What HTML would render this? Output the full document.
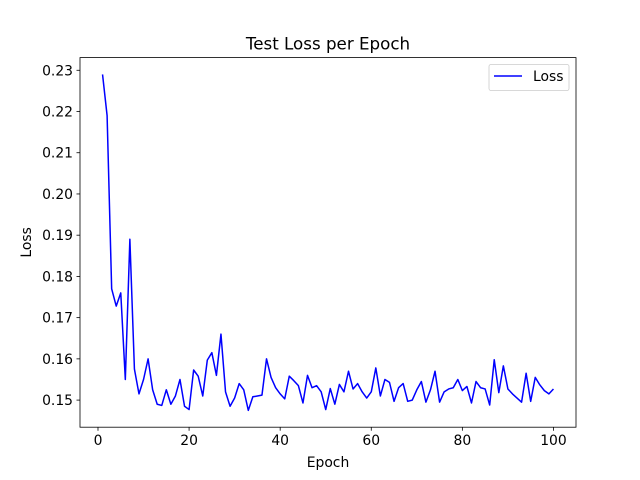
<!DOCTYPE html>
<html><head><meta charset="utf-8">
<style>body{margin:0;background:#fff}svg{display:block;font-family:"DejaVu Sans","Liberation Sans",sans-serif}</style>
</head><body>
<svg id="c" width="640" height="480"></svg>
<script>
const epochs=[];for(let i=1;i<=100;i++)epochs.push(i);
const loss=[0.229,0.219,0.177,0.1728,0.176,0.155,0.189,0.1575,0.1515,0.155,
0.160,0.1525,0.149,0.1487,0.1525,0.149,0.151,0.155,0.1485,0.1477,
0.1573,0.1558,0.151,0.1597,0.1615,0.156,0.166,0.152,0.1485,0.1505,
0.154,0.1525,0.1475,0.1508,0.151,0.1512,0.160,0.1555,0.153,0.1515,
0.1503,0.1558,0.1547,0.1535,0.1493,0.156,0.153,0.1535,0.152,0.1477,
0.1528,0.149,0.1538,0.152,0.157,0.1527,0.154,0.152,0.1505,0.152,
0.1578,0.151,0.155,0.1543,0.1497,0.153,0.154,0.1497,0.15,0.1525,
0.1545,0.1495,0.1525,0.157,0.1495,0.152,0.1527,0.153,0.155,0.1523,
0.1533,0.1493,0.1545,0.153,0.1527,0.1488,0.1598,0.1518,0.1583,0.1527,
0.1515,0.1505,0.1495,0.1565,0.1497,0.1555,0.1537,0.1523,0.1515,0.1527];
const xTicks=[0,20,40,60,80,100];
const yTicks=[0.15,0.16,0.17,0.18,0.19,0.20,0.21,0.22,0.23];
const L=80,R=576,T=57.6,B=427.2;
const x0=-3.95,x1=104.95;
const mn=Math.min(...loss),mx=Math.max(...loss),pad=(mx-mn)*0.05;
const y0=mn-pad,y1=mx+pad;
const X=v=>L+(v-x0)/(x1-x0)*(R-L);
const Y=v=>B-(v-y0)/(y1-y0)*(B-T);
const svg=document.getElementById('c');const NS='http://www.w3.org/2000/svg';
function mk(t,a,txt){const e=document.createElementNS(NS,t);for(const k in a)e.setAttribute(k,a[k]);if(txt!=null)e.textContent=txt;svg.appendChild(e);return e;}
let e;
xTicks.forEach(t=>{const px=X(t);
e=mk('line',{x1:px,x2:px,y1:B,y2:B+3.5,stroke:'#000','stroke-width':0.8});


e=mk('text',{x:px,y:B+18,'font-size':13.9,'text-anchor':'middle'},String(t));

});
yTicks.forEach(t=>{const py=Y(t);
e=mk('line',{x1:L-3.5,x2:L,y1:py,y2:py,stroke:'#000','stroke-width':0.8});


e=mk('text',{x:L-7,y:py+5,'font-size':13.9,'text-anchor':'end'},t.toFixed(2));

});
e=mk('polyline',{points:epochs.map((v,i)=>X(v)+','+Y(loss[i])).join(' '),fill:'none',stroke:'#0000ff','stroke-width':1.5,'stroke-linejoin':'round'});


e=mk('rect',{x:L,y:T,width:R-L,height:B-T,fill:'none',stroke:'#000','stroke-width':0.8});


e=mk('text',{x:(L+R)/2,y:T-8,'font-size':16.7,'text-anchor':'middle'},'Test Loss per Epoch');


e=mk('text',{x:(L+R)/2,y:467,'font-size':13.9,'text-anchor':'middle'},'Epoch');


e=mk('text',{x:31,y:(T+B)/2,'font-size':13.9,'text-anchor':'middle',transform:'rotate(-90 31 '+((T+B)/2)+')'},'Loss');


e=mk('rect',{x:489,y:64.5,width:80,height:26,rx:2,fill:'#fff',stroke:'#ccc','stroke-width':0.8});


e=mk('line',{x1:494,x2:522,y1:76,y2:76,stroke:'#0000ff','stroke-width':1.5});


e=mk('text',{x:533,y:81,'font-size':13.9},'Loss');


</script>
</body></html>
